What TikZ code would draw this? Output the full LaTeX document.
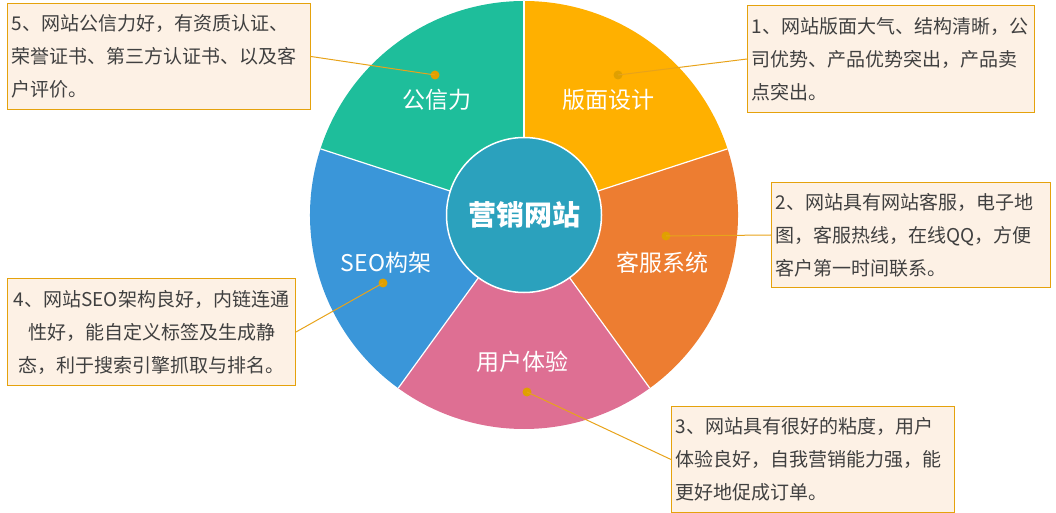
\documentclass[tikz,border=0pt]{standalone}
\usepackage{fontspec}
\newfontfamily\cjk{Noto Sans CJK SC}
\definecolor{yel}{HTML}{FFB000}
\definecolor{org}{HTML}{ED7D31}
\definecolor{pnk}{HTML}{DE6F93}
\definecolor{blu}{HTML}{3A96D9}
\definecolor{tea}{HTML}{1EBE9B}
\definecolor{cen}{HTML}{2BA1BD}
\definecolor{boxf}{HTML}{FDF1E5}
\definecolor{boxd}{HTML}{E5A20C}
\definecolor{lnc}{HTML}{E8A31A}
\definecolor{dotc}{HTML}{E0A000}
\definecolor{txt}{HTML}{404040}
\tikzset{
  infobox/.style={draw=boxd, fill=boxf, line width=1bp, rectangle, anchor=north west,
    inner xsep=4bp, inner ysep=0bp, align=left, text=txt,
    font={\cjk\fontsize{19bp}{33bp}\selectfont}},
  seglabel/.style={text=white, font={\cjk\fontsize{23bp}{23bp}\selectfont}, inner sep=0bp},
  dotmark/.style={circle, fill=dotc, minimum size=9bp, inner sep=0bp},
  conn/.style={draw=lnc, line width=1bp},
  sep/.style={draw=white, line width=1.2bp}
}
\begin{document}
\begin{tikzpicture}[x=1bp,y=1bp]
\useasboundingbox (0,0) rectangle (1056,-513);
\coordinate (C) at (524,-215);
% pie wedges
\fill[yel] (C) -- ++(90:214bp) arc[start angle=90, end angle=18, radius=214bp] -- cycle;
\fill[org] (C) -- ++(18:214bp) arc[start angle=18, end angle=-54, radius=214bp] -- cycle;
\fill[pnk] (C) -- ++(-54:214bp) arc[start angle=-54, end angle=-126, radius=214bp] -- cycle;
\fill[blu] (C) -- ++(-126:214bp) arc[start angle=-126, end angle=-198, radius=214bp] -- cycle;
\fill[tea] (C) -- ++(162:214bp) arc[start angle=162, end angle=90, radius=214bp] -- cycle;
\foreach \a in {90,18,-54,-126,162} \draw[sep] (C) -- ++(\a:214bp);
% labels
\node[seglabel] (l1) at (608,-100) {版面设计};
\node[seglabel] (l2) at (662,-263) {客服系统};
\node[seglabel] (l3) at (522,-362) {用户体验};
\node[seglabel] (l4) at (386,-263) {SEO构架};
\node[seglabel] (l5) at (437,-100) {公信力};
% centre
\node[circle, fill=cen, draw=white, line width=1.5bp, minimum size=155bp, inner sep=0bp,
  text=white, font={\cjk\bfseries\fontsize{28bp}{28bp}\selectfont}] (hub) at (C) {营销网站};
% boxes
\node[infobox, minimum width=303bp, minimum height=106bp, text width=295bp] (b5) at (7,-3)
  {5、网站公信力好，有资质认证、\\荣誉证书、第三方认证书、以及客\\户评价。};
\node[infobox, minimum width=287bp, minimum height=107bp, text width=279bp] (b1) at (747,-5)
  {1、网站版面大气、结构清晰，公\\司优势、产品优势突出，产品卖\\点突出。};
\node[infobox, minimum width=279bp, minimum height=105bp, text width=271bp] (b2) at (771,-182)
  {2、网站具有网站客服，电子地\\图，客服热线，在线QQ，方便\\客户第一时间联系。};
\node[infobox, minimum width=288bp, minimum height=107bp, text width=280bp, align=center] (b4) at (7,-278)
  {4、网站SEO架构良好，内链连通\\性好，能自定义标签及生成静\\态，利于搜索引擎抓取与排名。};
\node[infobox, minimum width=283bp, minimum height=106bp, text width=275bp] (b3) at (671,-406)
  {3、网站具有很好的粘度，用户\\体验良好，自我营销能力强，能\\更好地促成订单。};
% dots
\node[dotmark] (d1) at (618,-75) {};
\node[dotmark] (d2) at (666,-236) {};
\node[dotmark] (d3) at (527,-392) {};
\node[dotmark] (d4) at (383,-283) {};
\node[dotmark] (d5) at (435,-75) {};
% connectors
\draw[conn] (d1.center) -- (b1.west);
\draw[conn] (d2.center) -- (b2.west);
\draw[conn] (d3.center) -- (b3.west);
\draw[conn] (d4.center) -- (b4.east);
\draw[conn] (d5.center) -- (b5.east);
\end{tikzpicture}
\end{document}
